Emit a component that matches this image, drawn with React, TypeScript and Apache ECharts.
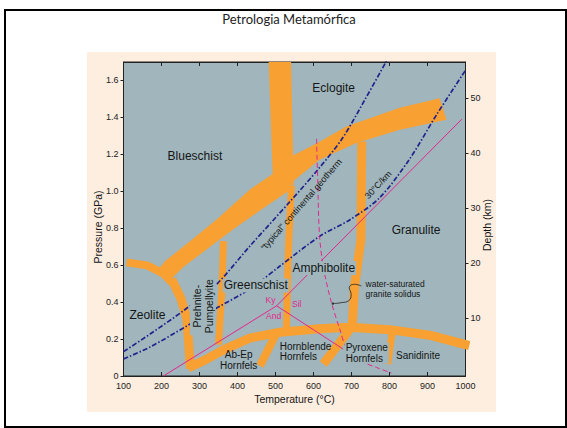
import React, { useEffect, useRef } from "react";
import * as echarts from "echarts";

type Pt = [number, number];

// Axis ticks
const temperatureTicks = [100, 200, 300, 400, 500, 600, 700, 800, 900, 1000];
const pressureTicks = [0, 0.2, 0.4, 0.6, 0.8, 1.0, 1.2, 1.4, 1.6];
const depthTicks = [10, 20, 30, 40, 50];

// Wide facies boundaries, outlined in (T °C, P GPa)
const blueschistEclogiteBand: Pt[] = [[482, 1.7], [541, 1.7], [548, 1.03], [493, 1.07]];
const blueschistGreenschistBand: Pt[] = [
  [501, 1.106], [432, 1.009], [345, 0.847], [275, 0.729], [209, 0.621], [196, 0.588],
  [217, 0.507], [256, 0.588], [388, 0.793], [459, 0.896], [548, 1.02],
];
const eclogiteAmphiboliteBand: Pt[] = [
  [540, 1.187], [616, 1.268], [686, 1.351], [827, 1.452], [932, 1.504],
  [950, 1.387], [827, 1.333], [713, 1.261], [616, 1.171], [545, 1.052],
];

// Narrow facies boundaries, as centre lines in (T °C, P GPa)
const zeoliteUpperBoundary: Pt[] = [[108, 0.615], [162, 0.599], [204, 0.556], [227, 0.507]];
const zeolitePrehniteBoundary: Pt[] = [[227, 0.523], [251, 0.421], [267, 0.308], [276, 0.04]];
const prehniteGreenschistBoundary: Pt[] = [[363, 0.73], [359, 0.47], [350, 0.17]];
const greenschistAmphiboliteBoundary: Pt[] = [[542, 1.03], [535, 0.739], [531, 0.47], [529, 0.25]];
const abEpHornblendeBoundary: Pt[] = [[503, 0.235], [459, 0.055]];
const amphiboliteGranuliteBoundary: Pt[] = [
  [727, 1.27], [725, 0.739], [708, 0.486], [702, 0.27], [682, 0.216], [626, 0.065],
];
const pyroxeneSanidiniteBoundary: Pt[] = [[807, 0.235], [795, 0.065]];
const hornfelsBoundary: Pt[] = [
  [270, 0.043], [314, 0.086], [367, 0.146], [432, 0.205], [511, 0.237], [616, 0.256],
  [695, 0.264], [800, 0.251], [905, 0.221], [1010, 0.165],
];

// Geotherms
const typicalGeotherm: Pt[] = [
  [100, 0.132], [170, 0.227], [256, 0.351], [340, 0.486], [432, 0.702], [538, 0.944],
  [616, 1.128], [677, 1.29], [735, 1.495], [792, 1.705],
];
const geotherm30: Pt[] = [
  [100, 0.092], [170, 0.157], [266, 0.27], [340, 0.362], [432, 0.47], [511, 0.594],
  [616, 0.756], [695, 0.845], [774, 0.965], [853, 1.175], [924, 1.415], [1000, 1.655],
];

// Al2SiO5 polymorph reactions and the granite solidus
const kyaniteAndalusite: Pt[] = [[205, 0], [503, 0.38]];
const kyaniteSillimanite: Pt[] = [[503, 0.38], [990, 1.39]];
const andalusiteSillimanite: Pt[] = [[503, 0.38], [678, 0.146]];
const graniteSolidus: Pt[] = [
  [608, 1.284], [611, 1.063], [616, 0.756], [627, 0.577], [647, 0.399], [669, 0.254],
  [685, 0.157], [708, 0.103], [732, 0.073], [766, 0.046], [805, 0.016],
];
const solidusLeader: Pt[] = [
  [726, 0.487], [708, 0.4965], [694, 0.478], [699, 0.4425], [692.5, 0.4075], [673, 0.397], [651, 0.392],
];

// Annotations: [text, T °C, P GPa]
const faciesNames: [string, number, number][] = [
  ["Eclogite", 653, 1.56],
  ["Blueschist", 288, 1.19],
  ["Granulite", 870, 0.79],
  ["Zeolite", 163, 0.33],
];
const boxedFaciesNames: [string, number, number][] = [
  ["Amphibolite", 627, 0.585],
  ["Greenschist", 448, 0.49],
];
const prehniteName: [string, number, number][] = [["Prehnite-\nPumpellyite", 309, 0.378]];
const hornfelsCentred: [string, number, number][] = [
  ["Ab-Ep\nHornfels", 403, 0.086],
  ["Sanidinite", 875, 0.113],
];
const hornfelsLeft: [string, number, number][] = [["Hornblende\nHornfels", 511, 0.132]];
const pyroxeneName: [string, number, number][] = [["Pyroxene\nHornfels", 682, 0.124]];
const polymorphNames: [string, number, number][] = [
  ["Ky", 487, 0.41],
  ["And", 495, 0.324],
  ["Sil", 556, 0.39],
];
const solidusNote: [string, number, number][] = [["water-saturated\ngranite solidus", 737, 0.472]];
const typicalNote: [string, number, number][] = [["\u201ctypical\u201d continental geotherm", 568, 0.928]];
const gradientNote: [string, number, number][] = [["30\u00b0C/km", 770, 1.035]];
const leaderEnd: Pt[] = [[651, 0.392]];

const ORANGE = "#f8a032";
const PLOT_BG = "#a0b5bc";
const NAVY = "#22228c";
const MAGENTA = "#e2288c";
const INK = "#151515";
const FRAME = "#222";
const SANS = "Liberation Sans";

function bandLine(name: string, data: Pt[], width: number) {
  return {
    type: "line",
    name,
    data,
    symbol: "none",
    showSymbol: false,
    silent: true,
    z: 2,
    lineStyle: { color: ORANGE, width, cap: "butt", join: "round" },
  };
}

function plainLine(name: string, data: Pt[], style: any, smooth: number | boolean = false, z = 3) {
  return {
    type: "line",
    name,
    data,
    symbol: "none",
    showSymbol: false,
    silent: true,
    smooth,
    z,
    lineStyle: style,
  };
}

function textLayer(name: string, items: [string, number, number][], style: any, rotationDeg = 0) {
  return {
    type: "custom",
    name,
    coordinateSystem: "cartesian2d",
    clip: false,
    silent: true,
    z: 10,
    data: items.map(([, t, p]) => [t, p]),
    encode: { x: 0, y: 1 },
    renderItem: (params: any, api: any) => {
      const pos = api.coord([api.value(0), api.value(1)]);
      return {
        type: "text",
        x: pos[0],
        y: pos[1],
        rotation: (rotationDeg * Math.PI) / 180,
        style: {
          text: items[params.dataIndex][0],
          fill: INK,
          fontFamily: SANS,
          align: "center",
          verticalAlign: "middle",
          ...style,
        },
      };
    },
  };
}

const bandOutlines = [blueschistEclogiteBand, blueschistGreenschistBand, eclogiteAmphiboliteBand];

export default function App() {
  const ref = useRef<HTMLDivElement>(null);

  useEffect(() => {
    if (!ref.current) return;
    const chart = echarts.init(ref.current, undefined, { renderer: "svg" });

    const axisText = { fontSize: 9, color: "#222", fontFamily: SANS };
    const axisLine = { show: true, onZero: false, lineStyle: { color: FRAME, width: 1 } };
    const tickStyle = { color: FRAME, width: 1 };
    const titleStyle = { fontSize: 10.5, fill: INK, fontFamily: SANS, align: "center", verticalAlign: "middle" };

    chart.setOption({
      animation: false,
      graphic: [
        {
          type: "text",
          x: 289,
          y: 19,
          z: 100,
          style: {
            text: "Petrologia Metam\u00f3rfica",
            fontSize: 13,
            fontFamily: "Lato",
            fill: "#222",
            align: "center",
            verticalAlign: "middle",
          },
        },
        {
          type: "text",
          x: 97.5,
          y: 227,
          rotation: Math.PI / 2,
          z: 100,
          style: { text: "Pressure (GPa)", ...titleStyle },
        },
        {
          type: "text",
          x: 487,
          y: 225,
          rotation: Math.PI / 2,
          z: 100,
          style: { text: "Depth (km)", ...titleStyle },
        },
      ],
      grid: {
        left: 123.5,
        top: 62,
        width: 342,
        height: 314,
        show: true,
        backgroundColor: PLOT_BG,
        borderColor: FRAME,
        borderWidth: 1,
        containLabel: false,
      },
      xAxis: [
        {
          type: "value",
          position: "bottom",
          min: 100,
          max: 1000,
          axisLine,
          axisTick: { show: true, inside: true, length: 4, customValues: temperatureTicks, lineStyle: tickStyle },
          minorTick: { show: false },
          axisLabel: { ...axisText, margin: 5, customValues: temperatureTicks, formatter: (v: number) => String(v) },
          splitLine: { show: false },
          name: "Temperature (\u00b0C)",
          nameLocation: "middle",
          nameGap: 17,
          nameMoveOverlap: false,
          nameTextStyle: { fontSize: 10.5, color: INK, fontFamily: SANS },
        },
        {
          type: "value",
          position: "top",
          min: 100,
          max: 1000,
          axisLine,
          axisTick: { show: true, inside: true, length: 4, customValues: temperatureTicks, lineStyle: tickStyle },
          minorTick: { show: false },
          axisLabel: { show: false },
          splitLine: { show: false },
        },
      ],
      yAxis: [
        {
          type: "value",
          position: "left",
          min: 0,
          max: 1.7,
          axisLine,
          axisTick: { show: true, inside: false, length: 3, customValues: pressureTicks, lineStyle: tickStyle },
          axisLabel: {
            ...axisText,
            margin: 5,
            customValues: pressureTicks,
            formatter: (v: number) => (v === 0 ? "0" : v.toFixed(1)),
          },
          splitLine: { show: false },
        },
        {
          type: "value",
          position: "right",
          min: -0.5,
          max: 56.6,
          axisLine,
          axisTick: { show: true, inside: false, length: 3, customValues: depthTicks, lineStyle: tickStyle },
          axisLabel: { ...axisText, margin: 5, customValues: depthTicks, formatter: (v: number) => String(v) },
          splitLine: { show: false },
        },
      ],
      series: [
        {
          type: "custom",
          name: "facies bands",
          coordinateSystem: "cartesian2d",
          clip: true,
          silent: true,
          z: 2,
          data: bandOutlines.map((b, i) => [b[0][0], b[0][1], i]),
          encode: { x: 0, y: 1 },
          renderItem: (params: any, api: any) => ({
            type: "polygon",
            shape: { points: bandOutlines[params.dataIndex].map((p) => api.coord(p)) },
            style: { fill: ORANGE },
          }),
        },
        bandLine("zeolite upper", zeoliteUpperBoundary, 8),
        bandLine("zeolite / prehnite-pumpellyite", zeolitePrehniteBoundary, 9),
        bandLine("prehnite-pumpellyite / greenschist", prehniteGreenschistBoundary, 7),
        bandLine("greenschist / amphibolite", greenschistAmphiboliteBoundary, 7),
        bandLine("ab-ep / hornblende hornfels", abEpHornblendeBoundary, 8),
        bandLine("amphibolite / granulite", amphiboliteGranuliteBoundary, 9),
        bandLine("pyroxene / sanidinite", pyroxeneSanidiniteBoundary, 7),
        bandLine("hornfels", hornfelsBoundary, 9),
        plainLine("typical continental geotherm", typicalGeotherm, { color: NAVY, width: 1.7, type: [5, 2, 1.5, 2] }, 0.3),
        plainLine("30 C/km", geotherm30, { color: NAVY, width: 1.7, type: [5, 2, 1.5, 2] }, 0.3),
        plainLine("Ky-And", kyaniteAndalusite, { color: MAGENTA, width: 1 }),
        plainLine("Ky-Sil", kyaniteSillimanite, { color: MAGENTA, width: 1 }),
        plainLine("And-Sil", andalusiteSillimanite, { color: MAGENTA, width: 1 }),
        plainLine("granite solidus", graniteSolidus, { color: MAGENTA, width: 1, type: [5, 3] }, 0.3),
        plainLine("solidus leader", solidusLeader, { color: "#222", width: 0.8 }, 0.5),
        {
          type: "scatter",
          name: "leader end",
          data: leaderEnd,
          symbol: "circle",
          symbolSize: 2.5,
          silent: true,
          z: 4,
          itemStyle: { color: "#222" },
        },
        textLayer("facies", faciesNames, { fontSize: 12 }),
        textLayer("facies boxed", boxedFaciesNames, { fontSize: 12, backgroundColor: PLOT_BG, padding: [1, 1] }),
        textLayer("prehnite", prehniteName, { fontSize: 10.5, lineHeight: 12, backgroundColor: PLOT_BG, padding: [1, 2] }, 90),
        textLayer("hornfels centred", hornfelsCentred, { fontSize: 10, lineHeight: 10.5 }),
        textLayer("hornfels left", hornfelsLeft, { fontSize: 10, lineHeight: 10.5, align: "left" }),
        textLayer("pyroxene", pyroxeneName, { fontSize: 10, lineHeight: 10.5, align: "left", backgroundColor: PLOT_BG, padding: [0, 1] }),
        textLayer("polymorphs", polymorphNames, { fontSize: 8.5, fill: MAGENTA }),
        textLayer("solidus note", solidusNote, { fontSize: 8.5, lineHeight: 10, align: "left" }),
        textLayer("typical note", typicalNote, { fontSize: 9 }, 49),
        textLayer("gradient note", gradientNote, { fontSize: 9 }, 47),
      ],
    });

    return () => chart.dispose();
  }, []);

  return (
    <div style={{ position: "absolute", left: 0, top: 0, width: 567, height: 428, background: "#fff", overflow: "hidden" }}>
      <div
        style={{
          position: "absolute",
          left: 4,
          top: 9,
          width: 563,
          height: 419,
          border: "2px solid #000",
          boxSizing: "border-box",
        }}
      />
      <div style={{ position: "absolute", left: 87, top: 52, width: 409, height: 360, background: "#fdeee0" }} />
      <div ref={ref} style={{ position: "absolute", left: 0, top: 0, width: 567, height: 428 }} />
    </div>
  );
}
